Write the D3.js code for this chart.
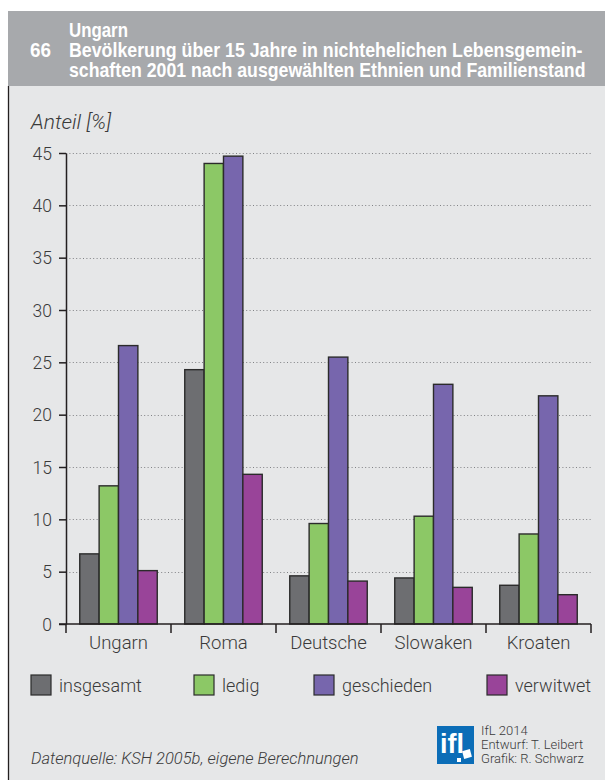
<!DOCTYPE html>
<html>
<head>
<meta charset="utf-8">
<script src="https://cdn.jsdelivr.net/npm/d3@7"></script>
<style>
  body { margin: 0; background: #fff; }
  svg text { font-family: "Liberation Sans", Arial, sans-serif; }
</style>
</head>
<body>
<div id="chart"></div>
<script>
// data
var ethnien = ["Ungarn", "Roma", "Deutsche", "Slowaken", "Kroaten"];
var stand = ["insgesamt", "ledig", "geschieden", "verwitwet"];
var insgesamt = [6.7, 24.3, 4.6, 4.4, 3.7];
var ledig = [13.2, 44.0, 9.6, 10.3, 8.6];
var geschieden = [26.6, 44.7, 25.5, 22.9, 21.8];
var verwitwet = [5.1, 14.3, 4.1, 3.5, 2.8];
var yTicks = [0, 5, 10, 15, 20, 25, 30, 35, 40, 45];
var farben = ["#6d6e71", "#8cc866", "#7766ad", "#994499"];

var series = [insgesamt, ledig, geschieden, verwitwet];

var width = 605, height = 780;
var lightFont = "Roboto, 'Liberation Sans', sans-serif";

var svg = d3.select("#chart").append("svg")
    .attr("width", width)
    .attr("height", height);

// background panel
svg.append("rect").attr("x", 8).attr("y", 86).attr("width", width - 8).attr("height", height - 86)
    .attr("fill", "#e6e7e8");
svg.append("line").attr("x1", 8.5).attr("x2", 8.5).attr("y1", 86).attr("y2", height)
    .attr("stroke", "#231f20").attr("stroke-width", 1.3);

// header (bold, squeezed horizontally to look condensed)
svg.append("rect").attr("x", 8).attr("y", 11).attr("width", width - 8).attr("height", 75)
    .attr("fill", "#a7a9ac");
var headLines = [
    { x: 30, y: 57, w: 21, t: "66" },
    { x: 69, y: 37, w: 59, t: "Ungarn" },
    { x: 69, y: 57, w: 514, t: "Bevölkerung über 15 Jahre in nichtehelichen Lebensgemein-" },
    { x: 69, y: 77, w: 517, t: "schaften 2001 nach ausgewählten Ethnien und Familienstand" }
];
svg.append("g").selectAll("text").data(headLines).enter().append("text")
    .style("font-weight", "bold")
    .style("font-size", "20px")
    .attr("fill", "#fff")
    .text(function (d) { return d.t; })
    .attr("transform", function (d) {
        var sx = d.w / this.getComputedTextLength();
        return "translate(" + d.x + "," + d.y + ") scale(" + sx + ",1)";
    });

// chart area
var x0 = 66, x1 = 591, yTop = 153, yBot = 624;

var x = d3.scaleBand().domain(ethnien).range([x0, x1]).paddingInner(0).paddingOuter(0);
var xi = d3.scaleBand().domain(stand).range([0, x.bandwidth()]).paddingOuter(0.71).paddingInner(0);
var y = d3.scaleLinear().domain([0, 45]).range([yBot, yTop]);

// grid
svg.append("g").selectAll("line").data(yTicks.filter(function (d) { return d > 0; }))
    .enter().append("line")
    .attr("x1", x0).attr("x2", x1)
    .attr("y1", function (d) { return Math.round(y(d)) + 0.5; })
    .attr("y2", function (d) { return Math.round(y(d)) + 0.5; })
    .attr("stroke", "#808285").attr("stroke-width", 1)
    .attr("stroke-dasharray", "1,2.4");

// bars
var groups = svg.append("g").selectAll("g").data(ethnien).enter().append("g")
    .attr("transform", function (d) { return "translate(" + x(d) + ",0)"; });

groups.selectAll("rect")
    .data(function (d, i) { return stand.map(function (s, j) { return { s: s, v: series[j][i], c: farben[j] }; }); })
    .enter().append("rect")
    .attr("x", function (d) { return xi(d.s); })
    .attr("width", xi.bandwidth())
    .attr("y", function (d) { return y(d.v); })
    .attr("height", function (d) { return yBot - y(d.v); })
    .attr("fill", function (d) { return d.c; })
    .attr("stroke", "#2b2b2b").attr("stroke-width", 1.4);

// y axis
var yAxis = svg.append("g").attr("transform", "translate(" + x0 + ",0)")
    .call(d3.axisLeft(y).tickValues(yTicks).tickSize(7).tickPadding(7).tickSizeOuter(0));
yAxis.select(".domain").attr("stroke", "#231f20").attr("stroke-width", 1.5);
yAxis.selectAll(".tick line").attr("stroke", "#231f20").attr("stroke-width", 1.5);
yAxis.selectAll("text").style("font-size", "17.5px").attr("fill", "#3a3a3a").attr("dy", "0.36em")
    .style("font-family", lightFont).style("font-weight", 300);

// x axis
var xAxis = svg.append("g").attr("transform", "translate(0," + yBot + ")")
    .call(d3.axisBottom(x).tickSize(0).tickPadding(12));
xAxis.select(".domain").remove();
svg.append("line").attr("x1", x0 - 7).attr("x2", x1).attr("y1", yBot).attr("y2", yBot)
    .attr("stroke", "#231f20").attr("stroke-width", 1.5);
svg.append("g").selectAll("line").data(ethnien.concat(["end"]))
    .enter().append("line")
    .attr("x1", function (d) { return d === "end" ? x1 : x(d); })
    .attr("x2", function (d) { return d === "end" ? x1 : x(d); })
    .attr("y1", yBot).attr("y2", yBot + 9)
    .attr("stroke", "#231f20").attr("stroke-width", 1.5);
xAxis.selectAll("text").style("font-size", "18.5px").attr("fill", "#3a3a3a")
    .style("font-family", lightFont).style("font-weight", 300);

// axis title
svg.append("text").attr("x", 31).attr("y", 129)
    .style("font-family", lightFont).style("font-weight", 300)
    .style("font-style", "italic").style("font-size", "21px").attr("fill", "#3a3a3a")
    .text("Anteil [%]");

// legend
var legX = [31, 194, 314, 487];
var leg = svg.append("g").selectAll("g").data(stand).enter().append("g")
    .attr("transform", function (d, i) { return "translate(" + legX[i] + ",675)"; });
leg.append("rect").attr("width", 20).attr("height", 20)
    .attr("fill", function (d, i) { return farben[i]; })
    .attr("stroke", "#2b2b2b").attr("stroke-width", 1.2);
leg.append("text").attr("x", 28).attr("y", 17)
    .style("font-family", lightFont).style("font-weight", 300)
    .style("font-size", "18px").attr("fill", "#3a3a3a")
    .text(function (d) { return d; });

// footer
svg.append("text").attr("x", 31).attr("y", 764)
    .style("font-family", lightFont).style("font-weight", 300)
    .style("font-style", "italic").style("font-size", "16.5px").attr("fill", "#3a3a3a")
    .text("Datenquelle: KSH 2005b, eigene Berechnungen");

// IfL logo
var logo = svg.append("g").attr("transform", "translate(437,726)");
logo.append("rect").attr("width", 37).attr("height", 38).attr("fill", "#0b6db7");
logo.append("text").attr("x", 3).attr("y", 27)
    .style("font-weight", "bold").style("font-size", "27px").attr("fill", "#fff")
    .attr("textLength", 24).attr("lengthAdjust", "spacingAndGlyphs").text("ifl");
logo.append("rect").attr("x", 26).attr("y", 24).attr("width", 8).attr("height", 8).attr("fill", "#fff")
    .attr("transform", "rotate(-15,30,28)");
logo.append("rect").attr("x", 20).attr("y", 32).attr("width", 4).attr("height", 4).attr("fill", "#fff");

var credits = ["IfL 2014", "Entwurf: T. Leibert", "Grafik: R. Schwarz"];
svg.append("g").selectAll("text").data(credits).enter().append("text")
    .attr("x", 481).attr("y", function (d, i) { return 735 + i * 13.8; })
    .style("font-family", lightFont).style("font-weight", 300)
    .style("font-size", "13px").attr("fill", "#3a3a3a")
    .text(function (d) { return d; });
</script>
</body>
</html>
